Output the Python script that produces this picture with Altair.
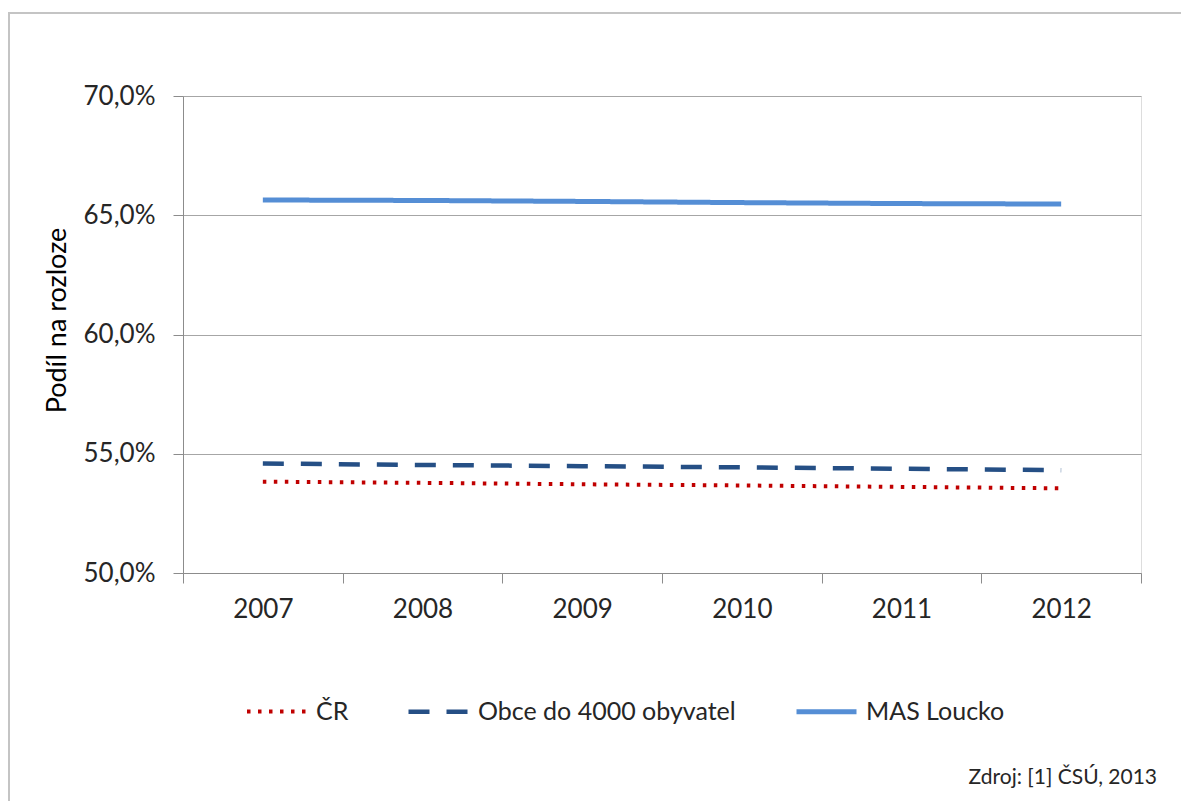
import altair as alt
import pandas as pd

years = [2007, 2008, 2009, 2010, 2011, 2012]
series_names = ["ČR", "Obce do 4000 obyvatel", "MAS Loucko"]
cr = [53.83, 53.78, 53.72, 53.67, 53.61, 53.55]
obce = [54.59, 54.53, 54.48, 54.43, 54.37, 54.31]
mas = [65.64, 65.62, 65.58, 65.53, 65.49, 65.47]
source_note = ["Zdroj: [1] ČSÚ, 2013"]

rows = []
for name, vals in zip(series_names, [cr, obce, mas]):
    for y, v in zip(years, vals):
        rows.append({"rok": y, "serie": name, "hodnota": v})
df = pd.DataFrame(rows)

FONT = "Lato"
TXT = "#262626"

x_values = []
for y in years:
    x_values += [y - 0.5, y]
x_values.append(years[-1] + 0.5)

W, H = 958, 477

lines = alt.Chart(df).mark_line(clip=False, strokeCap="butt").encode(
    x=alt.X(
        "rok:Q",
        scale=alt.Scale(domain=[years[0] - 0.5, years[-1] + 0.5], nice=False, zero=False),
        axis=alt.Axis(
            values=x_values,
            title=None,
            grid=False,
            domainColor="#8c8c8c",
            tickColor="#8c8c8c",
            tickSize=10,
            tickOpacity={"condition": {"test": "datum.value % 1 != 0", "value": 1}, "value": 0},
            labelExpr="datum.value % 1 == 0 ? format(datum.value, 'd') : ''",
            labelFont=FONT,
            labelFontSize=26,
            labelColor=TXT,
            labelPadding=13,
            labelFlush=False,
            labelOverlap=False,
        ),
    ),
    y=alt.Y(
        "hodnota:Q",
        scale=alt.Scale(domain=[50, 70], nice=False, zero=False),
        axis=alt.Axis(
            values=[50, 55, 60, 65, 70],
            title="Podíl na rozloze",
            titleFont=FONT,
            titleFontSize=27,
            titleFontWeight="normal",
            titleColor="#000000",
            titlePadding=12,
            titleY=224,
            labelExpr="replace(format(datum.value, '.1f'), '.', ',') + '%'",
            labelFont=FONT,
            labelFontSize=26,
            labelColor=TXT,
            labelPadding=18,
            grid=True,
            gridColor="#a6a6a6",
            gridWidth=1,
            domainColor="#8c8c8c",
            tickColor="#8c8c8c",
            tickSize=10,
        ),
    ),
    color=alt.Color(
        "serie:N",
        scale=alt.Scale(domain=series_names, range=["#c00000", "#254f85", "#558ed5"]),
        legend=alt.Legend(
            title=None,
            orient="none",
            legendX=62,
            legendY=583,
            direction="horizontal",
            symbolType="stroke",
            symbolSize=3600,
            symbolStrokeWidth=5,
            labelFont=FONT,
            labelFontSize=25,
            labelColor=TXT,
            labelOffset=7,
            labelLimit=0,
            columnPadding=50,
        ),
    ),
    strokeDash=alt.StrokeDash(
        "serie:N",
        scale=alt.Scale(domain=series_names, range=[[3.5, 7.5], [21, 17], [1, 0]]),
        legend=None,
    ),
    strokeWidth=alt.StrokeWidth(
        "serie:N",
        scale=alt.Scale(domain=series_names, range=[4, 5, 5]),
        legend=None,
    ),
).properties(width=W, height=H)

note = alt.Chart(pd.DataFrame({"t": source_note})).mark_text(
    align="right", baseline="middle", font=FONT, fontSize=21, color=TXT
).encode(text="t:N", x=alt.value(974), y=alt.value(682))

frame = alt.Chart(pd.DataFrame({"t": [0]})).mark_rect(
    fill=None, stroke="#c4c4c4", strokeWidth=2
).encode(x=alt.value(-174), x2=alt.value(1200), y=alt.value(-83), y2=alt.value(900))

chart = alt.layer(frame, lines, note).properties(
    width=W,
    height=H,
    padding={"left": 175, "top": 88, "right": 40, "bottom": 228},
    autosize=alt.AutoSizeParams(type="none"),
).configure_view(stroke=None).configure(background="white")

chart.save("out.html", embed_options={"renderer": "svg", "actions": False})
